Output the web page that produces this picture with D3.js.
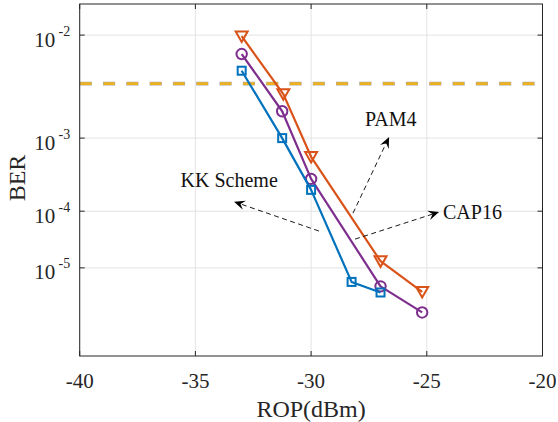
<!DOCTYPE html>
<html>
<head>
<meta charset="utf-8">
<script src="https://cdn.jsdelivr.net/npm/d3@7"></script>
<style>
  html, body { margin: 0; padding: 0; background: #fff; }
  svg { display: block; font-family: "Liberation Serif", "Times New Roman", serif; }
</style>
</head>
<body>
<svg id="chart" width="558" height="422"></svg>
<script>
// Received optical power (dBm) and measured BER for each scheme
const kkRop   = [-33, -31.25, -30, -28.25, -27];
const kkBer   = [5.0e-3, 1.0e-3, 2.1e-4, 5.2e-6, 3.1e-6];
const capRop  = [-33, -31.25, -30, -27, -25.2];
const capBer  = [7.0e-3, 2.0e-3, 3.0e-4, 4.2e-6, 1.1e-6];
const pamRop  = [-33, -31.2, -30, -27, -25.2];
const pamBer  = [9.8e-3, 3.0e-3, 5.9e-4, 1.35e-5, 3.2e-6];

// HD-FEC threshold
const fecBer = 3.8e-3;

// Axis ticks
const ropTicks = [-40, -35, -30, -25, -20];
const berTicks = [1e-2, 1e-3, 1e-4, 1e-5];
const berTickExp = ["-2", "-3", "-4", "-5"];

// Axis limits
const ropDomain = [-40, -20];
const berDomain = [1.7e-2, 8.45e-8];

// Annotations: label, text anchor point, arrow tail, arrow head (ROP, BER)
const noteLabels = ["KK Scheme", "PAM4", "CAP16"];
const noteText   = [[-35.64, 2.3e-4], [-27.67, 1.38e-3], [-24.3, 7.5e-5]];
const noteTail   = [[-29.66, 4.73e-5], [-28.19, 9.3e-5], [-28.1, 3.43e-5]];
const noteHead   = [[-33.33, 1.4e-4], [-26.63, 1.03e-3], [-24.47, 9.7e-5]];

const colors = { kk: "#0072BD", cap: "#7E2F8E", pam: "#D95319", fec: "#EDB120" };

const svg = d3.select("#chart");
const margin = { left: 79.7, right: 558 - 542.5, top: 4, bottom: 422 - 356 };
const W = 558, H = 422;

const x = d3.scaleLinear().domain(ropDomain).range([margin.left, W - margin.right]);
// BER axis: log of -log10(BER), so decades get closer toward low BER
const q = d3.scaleLog()
  .domain(berDomain.map(b => -Math.log10(b)))
  .range([margin.top, H - margin.bottom]);
const y = b => q(-Math.log10(b));

const x0 = x.range()[0], x1 = x.range()[1];
const y0 = q.range()[0], y1 = q.range()[1];

// grid
const grid = svg.append("g").attr("stroke", "#e3e3e3").attr("stroke-width", 1);
ropTicks.forEach(t => {
  grid.append("line").attr("x1", x(t)).attr("x2", x(t)).attr("y1", y0).attr("y2", y1);
});
berTicks.forEach(t => {
  grid.append("line").attr("x1", x0).attr("x2", x1).attr("y1", y(t)).attr("y2", y(t));
});

// FEC threshold: gray-edged dashed yellow line
svg.append("line")
  .attr("x1", x0).attr("x2", x1).attr("y1", y(fecBer)).attr("y2", y(fecBer))
  .attr("stroke", "#a8a8a8").attr("stroke-width", 3.8)
  .attr("stroke-dasharray", "12.2,11.1");
svg.append("line")
  .attr("x1", x0 + 0.5).attr("x2", x1).attr("y1", y(fecBer)).attr("y2", y(fecBer))
  .attr("stroke", colors.fec).attr("stroke-width", 2.8)
  .attr("stroke-dasharray", "11.2,12.1");

// series
function series(rop, ber, color, marker) {
  const pts = rop.map((r, i) => [x(r), y(ber[i])]);
  svg.append("path")
    .attr("d", d3.line()(pts))
    .attr("fill", "none").attr("stroke", color).attr("stroke-width", 2.2)
    .attr("stroke-linejoin", "round");
  const g = svg.append("g").attr("fill", "none").attr("stroke", color).attr("stroke-width", 2);
  pts.forEach(([px, py]) => {
    if (marker === "square") {
      g.append("rect").attr("x", px - 4).attr("y", py - 4).attr("width", 8).attr("height", 8);
    } else if (marker === "circle") {
      g.append("circle").attr("cx", px).attr("cy", py).attr("r", 5.2);
    } else {
      const s = 6;
      g.append("path").attr("d",
        `M${px - s},${py - s * 0.8}L${px + s},${py - s * 0.8}L${px},${py + s * 0.95}Z`);
    }
  });
}
series(pamRop, pamBer, colors.pam, "triangle");
series(capRop, capBer, colors.cap, "circle");
series(kkRop, kkBer, colors.kk, "square");

// annotations
const notes = svg.append("g");
noteLabels.forEach((label, i) => {
  const [tx, ty] = [x(noteTail[i][0]), y(noteTail[i][1])];
  const [hx, hy] = [x(noteHead[i][0]), y(noteHead[i][1])];
  const dx = hx - tx, dy = hy - ty, len = Math.hypot(dx, dy);
  const ux = dx / len, uy = dy / len, nx = -uy, ny = ux;
  const L = 11, Wd = 4.8;
  notes.append("line")
    .attr("x1", tx).attr("y1", ty).attr("x2", hx - ux * 6).attr("y2", hy - uy * 6)
    .attr("stroke", "#000").attr("stroke-width", 0.9).attr("stroke-dasharray", "5,3.5");
  const bx = hx - ux * L, by = hy - uy * L;
  const mx = hx - ux * L * 0.62, my = hy - uy * L * 0.62;
  notes.append("path")
    .attr("d", `M${hx},${hy}L${bx + nx * Wd},${by + ny * Wd}L${mx},${my}L${bx - nx * Wd},${by - ny * Wd}Z`)
    .attr("fill", "#000");
  notes.append("text")
    .attr("x", x(noteText[i][0])).attr("y", y(noteText[i][1]))
    .attr("font-size", 20).attr("fill", "#111")
    .text(label);
});

// frame and ticks
const axisColor = "#262626";
svg.append("rect")
  .attr("x", x0).attr("y", y0).attr("width", x1 - x0).attr("height", y1 - y0)
  .attr("fill", "none").attr("stroke", axisColor).attr("stroke-width", 1);
const ticks = svg.append("g").attr("stroke", axisColor).attr("stroke-width", 1);
ropTicks.forEach(t => {
  ticks.append("line").attr("x1", x(t)).attr("x2", x(t)).attr("y1", y1).attr("y2", y1 - 5);
  ticks.append("line").attr("x1", x(t)).attr("x2", x(t)).attr("y1", y0).attr("y2", y0 + 5);
});
berTicks.forEach(t => {
  ticks.append("line").attr("x1", x0).attr("x2", x0 + 5).attr("y1", y(t)).attr("y2", y(t));
  ticks.append("line").attr("x1", x1).attr("x2", x1 - 5).attr("y1", y(t)).attr("y2", y(t));
});

// tick labels
const labels = svg.append("g").attr("fill", "#262626");
ropTicks.forEach(t => {
  labels.append("text")
    .attr("x", x(t)).attr("y", 388).attr("text-anchor", "middle")
    .attr("font-size", 21).text(d3.format("d")(t).replace("−", "-"));
});
berTicks.forEach((t, i) => {
  const ty = y(t);
  labels.append("text")
    .attr("x", x0 - 9.5).attr("y", ty + 0.5).attr("text-anchor", "end")
    .attr("font-size", 14).text(berTickExp[i]);
  labels.append("text")
    .attr("x", x0 - 24.5).attr("y", ty + 11.5).attr("text-anchor", "end")
    .attr("font-size", 21).text("10");
});

// axis titles
svg.append("text")
  .attr("x", x(-30)).attr("y", 417).attr("text-anchor", "middle")
  .attr("font-size", 24).attr("fill", "#262626").text("ROP(dBm)");
svg.append("text")
  .attr("transform", `translate(25,${(y0 + y1) / 2 - 2}) rotate(-90)`)
  .attr("text-anchor", "middle")
  .attr("font-size", 24).attr("fill", "#262626").text("BER");
</script>
</body>
</html>
